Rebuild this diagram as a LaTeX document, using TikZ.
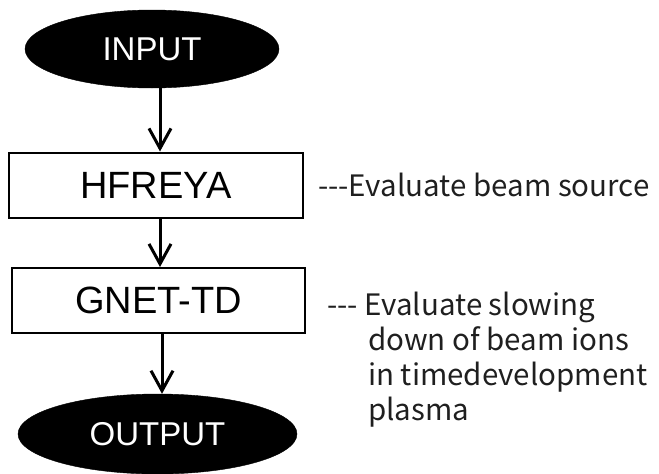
\documentclass[tikz,border=0pt]{standalone}
\usepackage{fontspec}
\setmainfont{Liberation Sans}
\newfontfamily\notefont{Noto Sans CJK JP}
\usetikzlibrary{shapes.geometric,arrows.meta}

\tikzset{
  terminal/.style={ellipse, fill=black, draw=black, inner sep=0pt,
    text=white, font=\fontsize{33}{33}\selectfont},
  process/.style={rectangle, draw=black, line width=2pt, inner sep=0pt,
    font=\fontsize{38}{38}\selectfont},
  flow/.style={line width=3pt, -{Straight Barb[length=20pt,width=22pt,line width=3pt]}},
  note/.style={inner sep=0pt, font=\notefont\fontsize{29.5}{35}\selectfont, text=black!88},
}

\begin{document}
\begin{tikzpicture}[x=1pt,y=-1pt]
  \useasboundingbox (0,0) rectangle (659,474);

  % flowchart blocks
  \node[terminal, minimum width=254pt, minimum height=78pt] (input) at (152,49) {INPUT};
  \node[process, minimum width=294pt, minimum height=65pt] (hf) at (156,185) {HFREYA};
  \node[process, minimum width=293pt, minimum height=65pt] (gnet) at (158.5,300.5) {GNET-TD};
  \node[terminal, minimum width=279pt, minimum height=80pt] (output) at (157.5,434) {OUTPUT};

  % connectors
  \draw[flow] (input.south -| 160,0) -- (hf.north -| 160,0);
  \draw[flow] (hf.south -| 160,0) -- (gnet.north -| 160,0);
  \draw[flow] (gnet.south -| 162,0) -- (output.north -| 162,0);

  % annotations
  \node[note, anchor=base west] (n1) at (318,196) {---Evaluate beam source};
  \node[note, anchor=base west] (n2) at (327,315) {--- Evaluate slowing};
  \node[note, anchor=base west] (n3) at (368,350) {down of beam ions};
  \node[note, anchor=base west] (n4) at (368,385) {in timedevelopment};
  \node[note, anchor=base west] (n5) at (368,420) {plasma};
\end{tikzpicture}
\end{document}
